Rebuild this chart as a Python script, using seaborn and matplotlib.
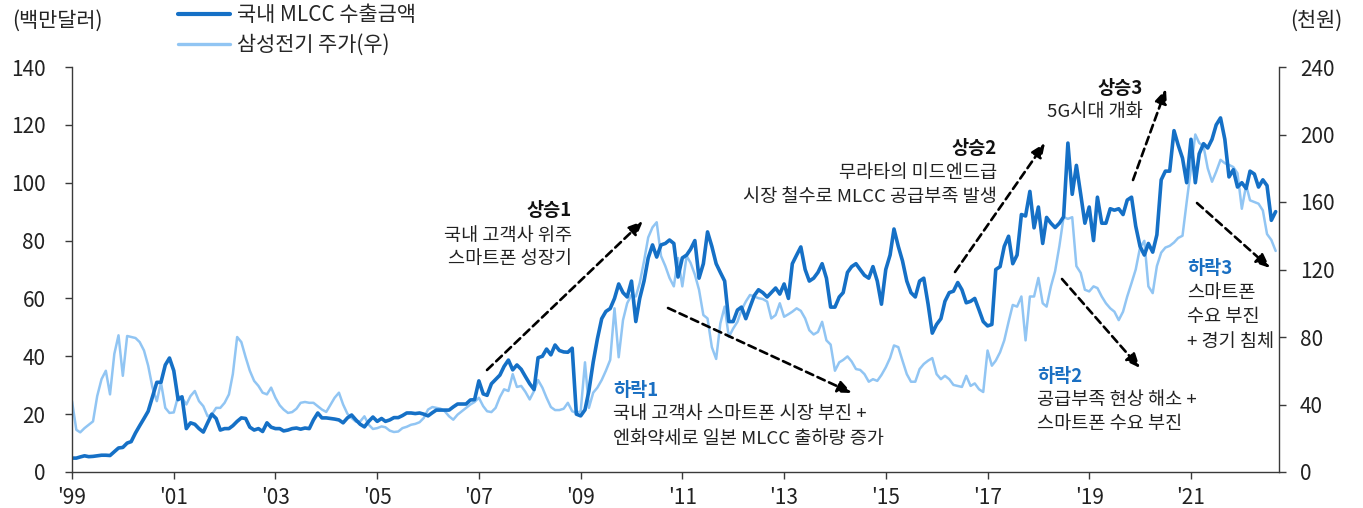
import pandas as pd
import seaborn as sns
import matplotlib.pyplot as plt

# 국내 MLCC 수출금액 (백만달러), 월별 1999.01 ~ 2022.09
mlcc_export = [
    4.8, 4.8, 5.2, 5.6, 5.3, 5.4, 5.6, 5.8, 5.8, 5.7, 7.0, 8.3,            # 1999
    8.5, 10.0, 10.5, 13.5, 16.0, 18.5, 21.0, 26.0, 31.0, 31.0, 37.0, 39.4,  # 2000
    35.0, 25.0, 26.0, 15.0, 17.0, 16.5, 15.0, 13.8, 17.0, 20.0, 18.5, 14.5, # 2001
    15.0, 15.0, 16.0, 17.5, 18.7, 18.5, 15.5, 14.5, 15.0, 14.0, 17.0, 15.5, # 2002
    15.0, 15.0, 14.2, 14.5, 15.0, 15.2, 14.8, 15.2, 15.0, 18.0, 20.4, 18.7, # 2003
    18.7, 18.5, 18.3, 18.0, 17.0, 18.7, 19.7, 18.0, 16.5, 15.6, 17.5, 19.0, # 2004
    17.5, 18.5, 17.5, 18.0, 18.8, 18.8, 19.5, 20.4, 20.4, 20.2, 20.4, 20.0, # 2005
    19.4, 20.5, 21.4, 21.4, 21.4, 21.4, 22.5, 23.5, 23.5, 23.5, 24.9, 25.0, # 2006
    31.5, 27.0, 26.5, 30.5, 32.0, 33.5, 36.5, 38.7, 35.3, 37.0, 35.5, 33.0, # 2007
    30.5, 28.5, 39.5, 40.0, 42.5, 40.5, 43.9, 42.0, 41.5, 41.4, 42.8, 20.0, # 2008
    19.4, 21.5, 28.0, 38.0, 46.0, 53.0, 55.5, 56.5, 60.0, 65.0, 62.0, 60.5, # 2009
    66.0, 52.0, 60.0, 66.0, 74.0, 78.5, 74.3, 78.5, 79.0, 80.2, 79.0, 67.4, # 2010
    74.0, 75.0, 77.0, 80.0, 67.0, 72.0, 83.0, 78.0, 72.0, 69.0, 66.0, 52.0, # 2011
    52.0, 56.0, 57.0, 53.0, 57.0, 61.0, 63.0, 62.0, 60.5, 62.0, 63.6, 61.5, # 2012
    65.0, 60.0, 72.0, 75.0, 77.8, 70.0, 66.0, 67.0, 69.0, 72.0, 67.0, 57.0, # 2013
    57.0, 60.5, 62.0, 69.0, 71.0, 72.0, 70.0, 68.0, 67.0, 71.0, 66.0, 58.0, # 2014
    70.0, 75.0, 84.0, 78.0, 73.0, 66.0, 62.0, 60.5, 66.0, 67.0, 58.0, 48.0, # 2015
    51.0, 53.0, 59.0, 62.0, 62.5, 65.5, 63.0, 58.5, 59.0, 60.0, 56.0, 52.0, # 2016
    50.5, 51.0, 70.0, 71.0, 78.0, 81.5, 72.0, 75.0, 89.0, 88.5, 97.0, 84.4, # 2017
    91.6, 79.0, 88.0, 86.0, 84.5, 86.0, 88.2, 113.7, 96.0, 106.0, 96.0, 86.0,   # 2018
    91.6, 80.0, 95.0, 86.0, 86.0, 91.0, 90.5, 91.0, 89.0, 94.0, 95.0, 85.0,     # 2019
    78.0, 75.0, 79.0, 76.0, 82.0, 101.0, 104.0, 104.0, 118.0, 113.0, 108.5, 100.0,  # 2020
    115.0, 100.0, 110.0, 113.5, 112.0, 115.0, 120.0, 122.4, 115.0, 102.0, 104.5, 98.5,  # 2021
    100.0, 98.0, 104.0, 103.0, 98.5, 101.0, 99.0, 87.0, 90.0,                   # 2022
]

# 삼성전기 주가 (천원), 월별 1999.01 ~ 2022.09
semco_price = [
    42, 25, 23.5, 26, 28, 30, 45, 55, 60, 46, 70, 81,          # 1999
    57, 80.6, 80, 79.4, 77, 72, 63, 50, 42, 53, 38, 35,        # 2000
    35.3, 45, 44, 40, 45, 48, 42, 39, 33, 34, 38, 38,          # 2001
    41, 46, 58, 80, 77, 68, 60, 54, 51, 47, 46, 50,            # 2002
    44, 39.5, 37, 35, 35.5, 37.5, 41, 41.5, 41, 41, 39, 37,    # 2003
    35.6, 40, 44, 47, 40, 34.5, 32, 29.8, 30, 33, 28, 25.5,    # 2004
    26, 27, 26.5, 24.5, 23.7, 24, 26, 26.8, 28, 28.5, 29.5, 32,  # 2005
    37, 38.5, 38, 37.5, 36, 33, 31, 34, 36, 38, 40, 41.5,      # 2006
    44, 39, 36, 35.5, 38, 44.4, 49, 48, 58, 50.4, 51, 47.5,    # 2007
    43, 48, 54.5, 50, 44, 38.5, 36.7, 36.7, 37.5, 41, 36, 35,  # 2008
    36, 65, 38, 47, 50, 54.5, 60, 66.4, 97, 68, 90, 100,       # 2009
    105, 104, 112, 125, 139, 145, 148, 128, 122, 115, 110, 126.8,  # 2010
    110, 128, 124, 117, 108, 93, 91, 74, 67, 88, 98, 80,       # 2011
    85, 89, 96, 101, 104.9, 104, 103, 102.5, 101, 91, 93, 100, # 2012
    92, 93.5, 95, 97, 95.5, 91, 84, 81.5, 83, 89, 78, 75.5,    # 2013
    60, 65, 66.4, 68.5, 65.5, 61, 60.5, 58, 53.5, 55, 54, 57.5,  # 2014
    62, 67.6, 75, 74, 66, 58, 53.5, 53.5, 61, 64, 66, 67.5,    # 2015
    58, 55, 57, 55, 51.6, 51, 50.4, 57, 51, 52.5, 49, 47.4,    # 2016
    72, 63, 66, 71, 78, 89, 99, 98, 104, 78, 104, 104,         # 2017
    115, 100, 98, 110, 119, 134, 151, 150, 151, 122, 118, 108, # 2018
    107, 110, 109, 104, 100, 97, 95, 90, 95, 104, 112, 120,    # 2019
    133, 137, 110, 106, 122, 130, 133, 134, 136, 138.7, 140, 160,  # 2020
    180, 200, 195, 193, 180, 172, 178, 185, 183, 182, 180.7, 177,  # 2021
    156, 170, 161, 160, 159, 155, 141, 137.5, 131,             # 2022
]

tick_years = list(range(1999, 2022, 2))
tick_labels = ["'99", "'01", "'03", "'05", "'07", "'09", "'11", "'13", "'15", "'17", "'19", "'21"]
left_ticks = [0, 20, 40, 60, 80, 100, 120, 140]
right_ticks = [0, 40, 80, 120, 160, 200, 240]

DARK = '#1570c6'
LIGHT = '#91c5f3'
BLUE_TXT = '#1a6fc2'
SPINE = '#3a3a3a'
TXT = '#222222'

sns.set_theme(style='white')
plt.rcParams['font.family'] = ['Noto Sans CJK KR', 'DejaVu Sans']

df = pd.DataFrame({
    'date': pd.date_range('1999-01-01', periods=len(mlcc_export), freq='MS'),
    'mlcc': mlcc_export,
    'semco': semco_price,
})

fig = plt.figure(figsize=(13.63, 5.08), dpi=100)
ax = fig.add_axes([72 / 1363, 36 / 508, 1207 / 1363, 405 / 508])
ax2 = ax.twinx()
ax.set_zorder(ax2.get_zorder() + 1)
ax.patch.set_visible(False)

sns.lineplot(data=df, x='date', y='semco', ax=ax2, color=LIGHT, lw=1.8, label='삼성전기 주가(우)', legend=False)
sns.lineplot(data=df, x='date', y='mlcc', ax=ax, color=DARK, lw=2.6, label='국내 MLCC 수출금액', legend=False)

ax.set_xlim(pd.Timestamp('1999-01-01'), pd.Timestamp('2022-09-25'))
ax.set_ylim(0, 140)
ax2.set_ylim(0, 240)
ax.set_xticks([pd.Timestamp(f'{y}-01-01') for y in tick_years])
ax.set_xticklabels(tick_labels)
ax.set_yticks(left_ticks)
ax2.set_yticks(right_ticks)
ax.set_xlabel('')
ax.set_ylabel('')
ax2.set_ylabel('')

for a in (ax, ax2):
    a.grid(False)
    for s in a.spines.values():
        s.set_color(SPINE)
        s.set_linewidth(1)
    a.spines['top'].set_visible(False)
ax.spines['right'].set_visible(False)
ax2.spines['left'].set_visible(False)
ax2.spines['bottom'].set_visible(False)

ax.tick_params(axis='x', direction='out', length=5, width=1, color=SPINE, pad=6, labelsize=15, labelcolor=TXT, bottom=True)
ax.tick_params(axis='y', direction='out', length=5, width=1, color=SPINE, pad=14, labelsize=15, labelcolor=TXT, left=True)
ax2.tick_params(axis='y', direction='out', length=5, width=1, color=SPINE, pad=10, labelsize=15, labelcolor=TXT, right=True)

fig.text(12 / 1363, 1 - 21 / 508, '(백만달러)', ha='left', va='center', fontsize=15, color=TXT)
fig.text(1342 / 1363, 1 - 21 / 508, '(천원)', ha='right', va='center', fontsize=15, color=TXT)

h1, l1 = ax.get_legend_handles_labels()
h2, l2 = ax2.get_legend_handles_labels()
leg = ax.legend(h1 + h2, l1 + l2, loc='upper left', bbox_to_anchor=(178 / 1363, 1 - 4 / 508),
                bbox_transform=fig.transFigure, frameon=False, fontsize=15, handlelength=2.5,
                handletextpad=0.35, labelspacing=0.38, borderpad=0, borderaxespad=0)
leg.get_lines()[0].set_linewidth(3.0)
leg.get_lines()[1].set_linewidth(2.4)


def fx(px):
    return (px - 72) / 1207


def fy(py):
    return (472 - py) / 405


def note(x, ys, lines, ha, title_color):
    for i, (txt, y) in enumerate(zip(lines, ys)):
        ax.text(fx(x), fy(y), txt, transform=ax.transAxes, ha=ha, va='center', fontsize=13.4,
                fontweight='bold' if i == 0 else 'normal',
                color=title_color if i == 0 else TXT)


def arrow(p0, p1):
    ax.annotate('', xy=(fx(p1[0]), fy(p1[1])), xytext=(fx(p0[0]), fy(p0[1])),
                xycoords='axes fraction', textcoords='axes fraction',
                arrowprops=dict(arrowstyle='-|>,head_length=0.7,head_width=0.3', color='black',
                                lw=1.9, ls=(0, (3, 1.8)), shrinkA=0, shrinkB=0))


note(572, [211, 236, 259], ['상승1', '국내 고객사 위주', '스마트폰 성장기'], 'right', '#111111')
note(613, [390, 414, 439], ['하락1', '국내 고객사 스마트폰 시장 부진 +', '엔화약세로 일본 MLCC 출하량 증가'], 'left', BLUE_TXT)
note(997, [148, 173, 197], ['상승2', '무라타의 미드엔드급', '시장 철수로 MLCC 공급부족 발생'], 'right', '#111111')
note(1143, [88, 112], ['상승3', '5G시대 개화'], 'right', '#111111')
note(1037, [376, 400, 424], ['하락2', '공급부족 현상 해소 +', '스마트폰 수요 부진'], 'left', BLUE_TXT)
note(1187, [269, 293, 317, 342], ['하락3', '스마트폰', '수요 부진', '+ 경기 침체'], 'left', BLUE_TXT)

arrow((487, 370), (643, 221))
arrow((668, 308), (852, 393))
arrow((955, 272), (1045, 143))
arrow((1133, 180), (1166, 89))
arrow((1062, 279), (1140, 368))
arrow((1197, 203), (1270, 268))

fig.savefig('out.png', dpi=100)
